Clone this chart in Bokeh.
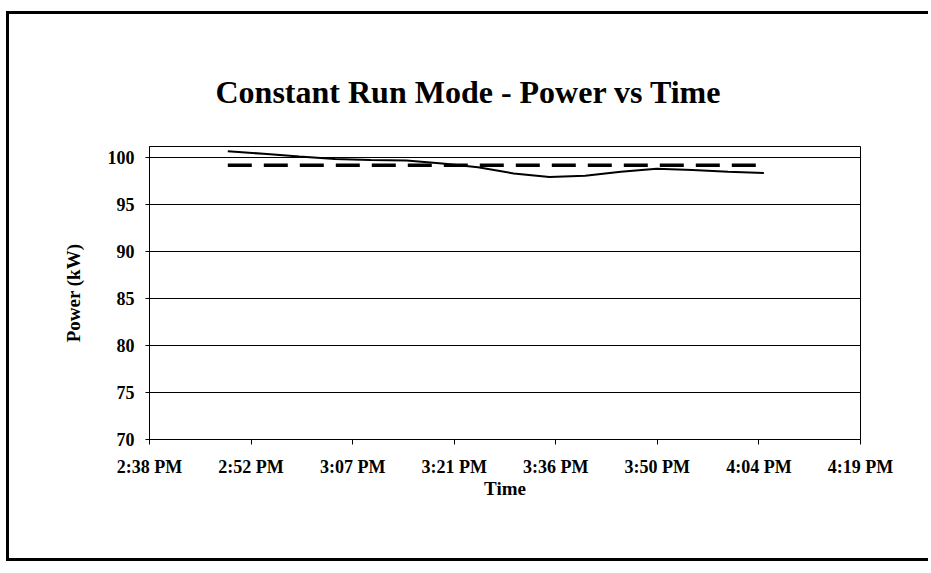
from bokeh.plotting import figure
from bokeh.models import FixedTicker, Range1d
from bokeh.embed import file_html
from bokeh.resources import INLINE

# ---- data ----
times = ["2:49:30 PM", "2:54:34 PM", "2:59:38 PM", "3:04:42 PM",
         "3:09:46 PM", "3:14:50 PM", "3:19:54 PM", "3:24:58 PM",
         "3:30:02 PM", "3:35:06 PM", "3:40:10 PM", "3:45:14 PM",
         "3:50:18 PM", "3:55:22 PM", "4:00:26 PM", "4:05:30 PM"]
power_kw = [100.70, 100.42, 100.14, 99.87, 99.76, 99.71, 99.40, 99.00,
            98.33, 97.95, 98.09, 98.50, 98.82, 98.69, 98.52, 98.38]
target_kw = [99.2, 99.2, 99.2, 99.2, 99.2, 99.2, 99.2, 99.2,
             99.2, 99.2, 99.2, 99.2, 99.2, 99.2, 99.2, 99.2]

# x axis: minutes after midnight (Excel major unit 0.01 day = 14.4 min)
x_ticks = [878.4, 892.8, 907.2, 921.6, 936.0, 950.4, 964.8, 979.2]
x_tick_labels = ["2:38 PM", "2:52 PM", "3:07 PM", "3:21 PM",
                 "3:36 PM", "3:50 PM", "4:04 PM", "4:19 PM"]
y_ticks = [70, 75, 80, 85, 90, 95, 100]


def to_minutes(t):
    hms, ampm = t.split()
    parts = [int(v) for v in hms.split(":")]
    h, m = parts[0], parts[1]
    s = parts[2] if len(parts) > 2 else 0
    if ampm == "PM" and h != 12:
        h += 12
    return h * 60 + m + s / 60.0


x = [to_minutes(t) for t in times]

FONT = "Liberation Serif"

p = figure(width=922, height=550,
           x_range=Range1d(x_ticks[0], x_ticks[-1]),
           y_range=Range1d(70, 101.2),
           output_backend="svg", toolbar_location=None,
           min_border_left=140, min_border_right=71,
           min_border_top=132, min_border_bottom=125,
           background_fill_color="white", border_fill_color="white",
           styles={"border-left": "3px solid black",
                   "border-top": "3px solid black",
                   "border-bottom": "3px solid black",
                   "margin-left": "6px", "margin-top": "11px"})

p.line(x, target_kw, line_color="black", line_width=3.5, line_dash="24 12")
p.line(x, power_kw, line_color="black", line_width=2)

# title
p.title.text = "Constant Run Mode - Power vs Time"
p.title.text_font = FONT
p.title.text_font_size = "32px"
p.title.text_font_style = "bold"
p.title.align = "left"
p.title.offset = 66
p.title.standoff = 74
p.title.text_color = "black"

# frame
p.outline_line_color = "black"
p.outline_line_width = 1

# grid
p.xgrid.visible = False
p.ygrid.ticker = FixedTicker(ticks=y_ticks)
p.ygrid.grid_line_color = "black"
p.ygrid.grid_line_width = 1

# x axis
p.xaxis.ticker = FixedTicker(ticks=x_ticks)
p.xaxis.major_label_overrides = dict(zip(x_ticks, x_tick_labels))
p.xaxis.axis_label = "Time"
p.xaxis.major_tick_in = 0
p.xaxis.major_tick_out = 5
p.xaxis.major_label_standoff = 12
p.xaxis.axis_label_standoff = -2

# y axis
p.yaxis.ticker = FixedTicker(ticks=y_ticks)
p.yaxis.axis_label = "Power (kW)"
p.yaxis.major_tick_in = 4
p.yaxis.major_tick_out = 4
p.yaxis.major_label_standoff = 11
p.yaxis.axis_label_standoff = 21

for ax in (p.xaxis, p.yaxis):
    ax.minor_tick_line_color = None
    ax.axis_line_color = "black"
    ax.major_tick_line_color = "black"
    ax.major_label_text_font = FONT
    ax.major_label_text_font_size = "18px"
    ax.major_label_text_font_style = "bold"
    ax.major_label_text_color = "black"
    ax.axis_label_text_font = FONT
    ax.axis_label_text_font_size = "19px"
    ax.axis_label_text_font_style = "bold"
    ax.axis_label_text_color = "black"

open("out.html", "w").write(file_html(p, INLINE))
